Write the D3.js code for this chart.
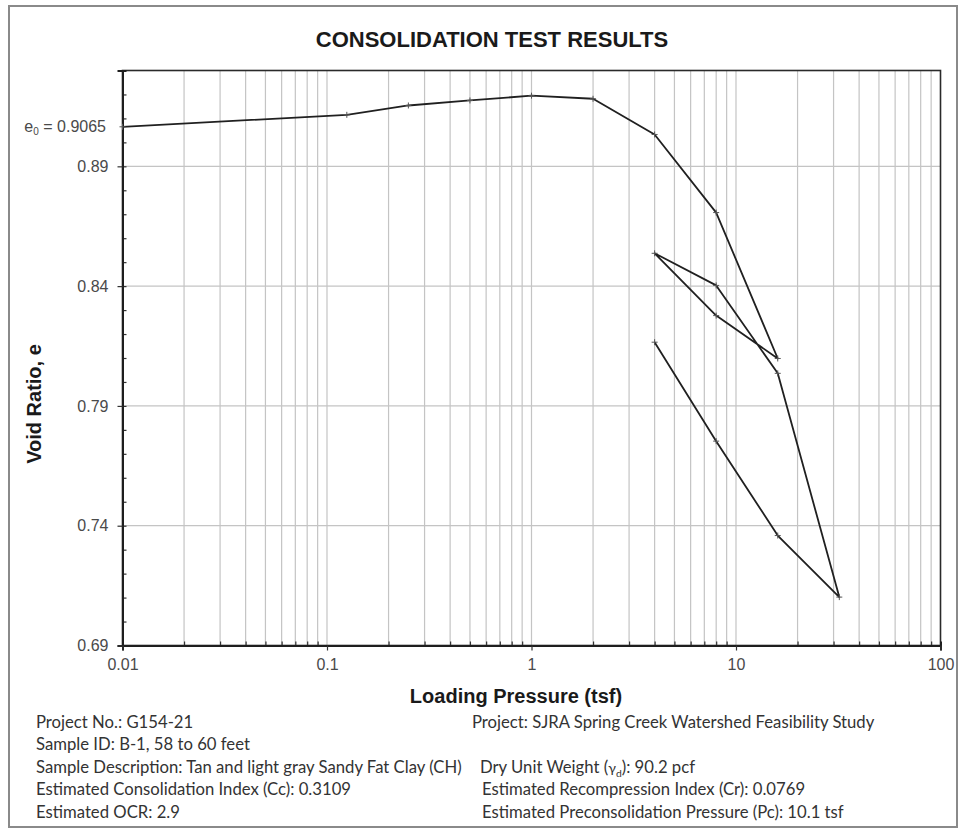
<!DOCTYPE html>
<html>
<head>
<meta charset="utf-8">
<script src="https://cdn.jsdelivr.net/npm/d3@7"></script>
<style>
  body { margin: 0; background: #fff; }
  svg { display: block; }
</style>
</head>
<body>
<svg id="chart" width="960" height="837"></svg>
<script>
// Consolidation test: load, unload, reload and final unload, in test order
const pressures  = [0.01, 0.125, 0.25, 0.5, 1, 2, 4, 8, 16, 8, 4, 8, 16, 32, 16, 8, 4];
const voidRatios = [0.9065, 0.9115, 0.9154, 0.9175, 0.9195, 0.9182, 0.9033, 0.8707, 0.8098,
                    0.8277, 0.8537, 0.8403, 0.8036, 0.7102, 0.7359, 0.7753, 0.8166];

const yMajorTicks = [0.69, 0.74, 0.79, 0.84, 0.89];
const xMajorTicks = [0.01, 0.1, 1, 10, 100];
const xTickLabels = ["0.01", "0.1", "1", "10", "100"];
const e0Value = 0.9065;

const titleText = "CONSOLIDATION TEST RESULTS";
const xTitle = "Loading Pressure (tsf)";
const yTitle = "Void Ratio, e";

const infoLeft = [
  "Project No.: G154-21",
  "Sample ID: B-1, 58 to 60 feet",
  "Sample Description: Tan and light gray Sandy Fat Clay (CH)",
  "Estimated Consolidation Index (Cc): 0.3109",
  "Estimated OCR: 2.9"
];
const infoRight = [
  { row: 0, text: "Project: SJRA Spring Creek Watershed Feasibility Study" },
  { row: 2, text: "Dry Unit Weight (γd): 90.2 pcf" },
  { row: 3, text: "Estimated Recompression Index (Cr): 0.0769" },
  { row: 4, text: "Estimated Preconsolidation Pressure (Pc): 10.1 tsf" }
];

const svg = d3.select("#chart");
const plot = { left: 122.5, right: 940.5, top: 70.5, bottom: 645.5 };

const x = d3.scaleLog().domain([0.01, 100]).range([plot.left, plot.right]);
const y = d3.scaleLinear().domain([0.69, 0.93]).range([plot.bottom, plot.top]);

// outer frame
svg.append("rect")
  .attr("x", 9).attr("y", 6).attr("width", 948).attr("height", 821)
  .attr("fill", "#fff").attr("stroke", "#8a8a8a").attr("stroke-width", 2);

// title
svg.append("text")
  .attr("x", 492).attr("y", 47)
  .attr("text-anchor", "middle")
  .attr("font-family", "Liberation Sans, Arial, sans-serif")
  .attr("font-weight", "bold").attr("font-size", 22)
  .attr("fill", "#1a1a1a")
  .text(titleText);

// log grid: every 1..9 multiple of each decade
const xMinor = [];
[0.01, 0.1, 1, 10].forEach(d => { for (let k = 2; k <= 9; k++) xMinor.push(k * d); });
const xGrid = xMinor.concat([0.1, 1, 10]);
const yMinor = d3.range(70, 93).map(v => v / 100).filter(v => !yMajorTicks.some(t => Math.abs(t - v) < 1e-9));

const grid = svg.append("g");
grid.selectAll("line.vg").data(xGrid).join("line")
  .attr("x1", d => x(d)).attr("x2", d => x(d))
  .attr("y1", plot.top).attr("y2", plot.bottom)
  .attr("stroke", "#c4c4c4").attr("stroke-width", 1.2);
grid.selectAll("line.hg").data(yMajorTicks.slice(1)).join("line")
  .attr("x1", plot.left).attr("x2", plot.right)
  .attr("y1", d => y(d)).attr("y2", d => y(d))
  .attr("stroke", "#c4c4c4").attr("stroke-width", 1.2);

// plot frame
svg.append("rect")
  .attr("x", plot.left).attr("y", plot.top)
  .attr("width", plot.right - plot.left).attr("height", plot.bottom - plot.top)
  .attr("fill", "none").attr("stroke", "#2a2a2a").attr("stroke-width", 1.6);

// y axis: outward major ticks with labels, inward minor ticks
const yAxisMajor = d3.axisLeft(y).tickValues(yMajorTicks).tickSize(5).tickPadding(9)
  .tickFormat(d3.format(".2f"));
const yAxisMinor = d3.axisLeft(y).tickValues(yMinor.concat(yMajorTicks)).tickSize(-4).tickFormat("");

const gyMinor = svg.append("g").attr("transform", `translate(${plot.left},0)`).call(yAxisMinor);
const gy = svg.append("g").attr("transform", `translate(${plot.left},0)`).call(yAxisMajor);

// x axis: outward decade ticks with labels, inward minor ticks
const xAxisMajor = d3.axisBottom(x).tickValues(xMajorTicks).tickSize(5).tickPadding(8)
  .tickFormat((d, i) => xTickLabels[i]);
const xAxisMinor = d3.axisBottom(x).tickValues(xMinor).tickSize(-4).tickFormat("");

const gxMinor = svg.append("g").attr("transform", `translate(0,${plot.bottom})`).call(xAxisMinor);
const gx = svg.append("g").attr("transform", `translate(0,${plot.bottom})`).call(xAxisMajor);

[gy, gx, gyMinor, gxMinor].forEach(g => {
  g.select(".domain").attr("stroke", "#1e1e1e").attr("stroke-width", 2);
  g.selectAll(".tick line").attr("stroke", "#333").attr("stroke-width", 1.2);
  g.selectAll(".tick text")
    .attr("font-family", "Liberation Sans, Arial, sans-serif")
    .attr("font-size", 16).attr("fill", "#4a4a4a");
});

// initial void ratio label
const e0 = svg.append("text")
  .attr("x", 106).attr("y", y(e0Value)).attr("dy", "0.35em")
  .attr("text-anchor", "end")
  .attr("font-family", "Liberation Sans, Arial, sans-serif")
  .attr("font-size", 16).attr("fill", "#4a4a4a");
e0.append("tspan").text("e");
e0.append("tspan").attr("font-size", 10).attr("dy", "0.3em").text("0");
e0.append("tspan").attr("dy", "-0.19em").text(" = " + d3.format(".4f")(e0Value));

// axis titles
svg.append("text")
  .attr("x", 516).attr("y", 703)
  .attr("text-anchor", "middle")
  .attr("font-family", "Liberation Sans, Arial, sans-serif")
  .attr("font-weight", "bold").attr("font-size", 20).attr("fill", "#1a1a1a")
  .text(xTitle);

svg.append("text")
  .attr("transform", "translate(41,404) rotate(-90)")
  .attr("text-anchor", "middle")
  .attr("font-family", "Liberation Sans, Arial, sans-serif")
  .attr("font-weight", "bold").attr("font-size", 20).attr("fill", "#1a1a1a")
  .text(yTitle);

// e-log p curve
const points = pressures.map((p, i) => ({ p, e: voidRatios[i] }));
const line = d3.line().x(d => x(d.p)).y(d => y(d.e));
svg.append("path")
  .datum(points)
  .attr("d", line)
  .attr("fill", "none").attr("stroke", "#202020").attr("stroke-width", 1.8)
  .attr("stroke-linejoin", "round");

const marks = svg.append("g");
marks.selectAll("path").data(points).join("path")
  .attr("transform", d => `translate(${x(d.p)},${y(d.e)})`)
  .attr("d", "M-3,0H3M0,-3V3")
  .attr("stroke", "#555").attr("stroke-width", 1);

// sample information block
const infoFont = "Lato, 'Open Sans', sans-serif";
const rowY = [728, 750, 773, 795, 818];
const info = svg.append("g")
  .attr("font-family", infoFont).attr("fill", "#333");

const left = info.selectAll("text.l").data(infoLeft).join("text")
  .attr("class", "l")
  .attr("x", 36).attr("y", (d, i) => rowY[i])
  .attr("font-size", 14)
  .text(d => d);

// size the block's font so the longest line spans its measured width
const probe = left.filter((d, i) => i === 2).node();
const fitSize = 14 * 426 / probe.getComputedTextLength();
info.selectAll("text.l").attr("font-size", fitSize);

const rightX = [472, 472, 480, 482, 482];
infoRight.forEach(r => {
  const t = info.append("text")
    .attr("x", rightX[r.row]).attr("y", rowY[r.row])
    .attr("font-size", fitSize);
  const gi = r.text.indexOf("γd");
  if (gi < 0) {
    t.text(r.text);
  } else {
    t.append("tspan").text(r.text.slice(0, gi));
    t.append("tspan").attr("font-size", fitSize * 0.85).text("γ");
    t.append("tspan").attr("font-size", fitSize * 0.62).attr("dy", "0.35em").text("d");
    t.append("tspan").attr("dy", "-0.22em").text(r.text.slice(gi + 2));
  }
});
</script>
</body>
</html>
